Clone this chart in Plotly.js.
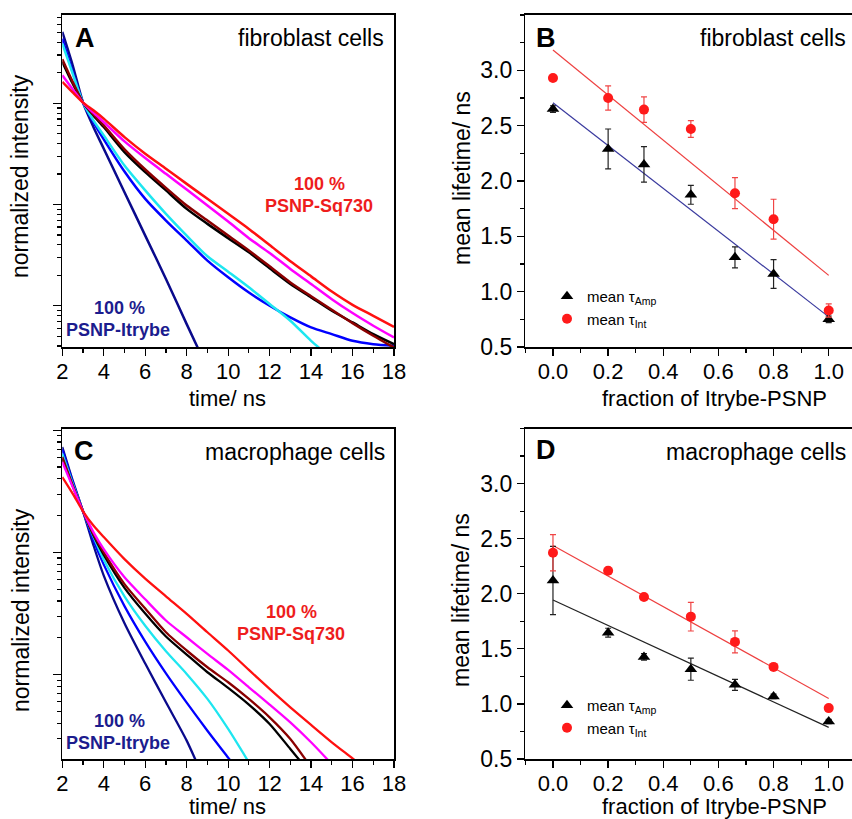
<!DOCTYPE html>
<html><head><meta charset="utf-8">
<script src="https://cdn.plot.ly/plotly-3.0.1.min.js"></script>
<style>html,body{margin:0;padding:0;overflow:hidden;background:#fff}#chart{width:860px;height:819px}</style>
</head><body><div id="chart"></div>
<script>
// ---------- time axis for decay curves (ns) ----------
const timeNs = [2,2.5,3,3.5,4,5,6,7,8,9,10,11,12,13,14,15,16,17,18];

// ---------- Panel A: fibroblast cells, normalized intensity ----------
const fibroRed     = [0.163,0.128,0.1016,0.0853,0.0706,0.0464,0.0318,0.0226,0.0160,0.01138,0.00809,0.00574,0.00398,0.00275,0.00195,0.00138,0.00102,0.000794,0.000617];
const fibroMagenta = [0.189,0.138,0.1016,0.0809,0.0653,0.0421,0.0288,0.0201,0.01409,0.00978,0.00679,0.00465,0.00332,0.00231,0.00164,0.00116,0.000846,0.000634,0.000485];
const fibroDarkRed = [0.273,0.163,0.1016,0.0778,0.0605,0.0351,0.0222,0.0146,0.00977,0.00695,0.00493,0.00351,0.00245,0.00170,0.00124,0.000912,0.000673,0.000505,0.000386];
const fibroBlack   = [0.257,0.157,0.1016,0.0760,0.0583,0.0330,0.0209,0.0138,0.00906,0.00644,0.00465,0.00337,0.00234,0.00164,0.00121,0.000891,0.000684,0.000524,0.000417];
const fibroCyan    = [0.390,0.197,0.1016,0.0679,0.0482,0.0243,0.0138,0.00809,0.00493,0.00308,0.00217,0.00152,0.00104,0.00071,0.00045,0.00030];
const fibroBlue    = [0.436,0.204,0.1016,0.0653,0.0441,0.0212,0.01138,0.00695,0.00440,0.00279,0.00191,0.00135,0.00100,0.000766,0.000610,0.000524,0.000450,0.000417,0.000402];
const fibroNavy    = [0.508,0.238,0.1016,0.0584,0.0356,0.01324,0.00493,0.00184,0.000658,0.000240];

// ---------- Panel C: macrophage cells, normalized intensity ----------
const macroRed     = [0.414,0.303,0.217,0.166,0.1336,0.0881,0.0610,0.0437,0.0314,0.0222,0.01574,0.01092,0.00763,0.00540,0.00387,0.00279,0.00206,0.00151];
const macroMagenta = [0.549,0.344,0.217,0.1466,0.1062,0.0625,0.0413,0.0277,0.0202,0.01477,0.01092,0.00787,0.00568,0.00406,0.00279,0.00185];
const macroDarkRed = [0.604,0.354,0.217,0.1413,0.100,0.0550,0.0347,0.0222,0.01574,0.01148,0.00865,0.00632,0.00447,0.00297,0.00174];
const macroBlack   = [0.586,0.350,0.217,0.138,0.0955,0.0513,0.0316,0.0205,0.01459,0.01045,0.00778,0.00568,0.00394,0.00246,0.00153];
const macroCyan    = [0.644,0.366,0.217,0.1349,0.0871,0.0437,0.0251,0.01552,0.01012,0.00632,0.00359,0.00191];
const macroBlue    = [0.698,0.378,0.217,0.126,0.0794,0.0363,0.0186,0.01023,0.00589,0.00347,0.00209,0.00126];
const macroNavy    = [0.729,0.389,0.217,0.1148,0.0646,0.0263,0.0123,0.00593,0.00288,0.0012];

// ---------- Panels B / D: mean lifetimes vs fraction ----------
const fraction = [0,0.2,0.33,0.5,0.66,0.8,1.0];
const fibroAmp    = [2.65,2.29,2.15,1.875,1.31,1.16,0.75];
const fibroAmpErr = [0.03,0.18,0.16,0.085,0.095,0.13,0.03];
const fibroInt    = [2.93,2.75,2.645,2.47,1.89,1.655,0.83];
const fibroIntErr = [0.02,0.11,0.115,0.075,0.14,0.18,0.06];
const macroAmp    = [2.12,1.647,1.427,1.315,1.173,1.068,0.84];
const macroAmpErr = [0.31,0.04,0.03,0.10,0.05,0.02,0.02];
const macroInt    = [2.372,2.209,1.97,1.792,1.563,1.336,0.962];
const macroIntErr = [0.165,0.03,0.01,0.13,0.10,0.01,0.02];
const fitX = [0,1];
const fibroFitAmp = [2.707,0.772];
const fibroFitInt = [3.184,1.147];
const macroFitAmp = [1.943,0.787];
const macroFitInt = [2.438,1.05];

const FONT = 'Liberation Sans, Arial, Helvetica, sans-serif';
const W = 860, H = 819;
const px = v => v / W;
const py = v => 1 - v / H;

const curveColors = {navy:'#0a0a8c', blue:'#0000ff', cyan:'#1ee6f0', black:'#000000', darkred:'#8b0000', magenta:'#ff00ff', red:'#ff1010'};

function curve(y, color, xa, ya, w) {
  return {x: timeNs, y: y, type:'scatter', mode:'lines', xaxis: xa, yaxis: ya,
          line:{color: color, width: w, shape:'spline', smoothing: 0.7}, showlegend:false, hoverinfo:'skip'};
}

const traces = [
  curve(fibroNavy, curveColors.navy, 'x', 'y', 2.5),
  curve(fibroBlue, curveColors.blue, 'x', 'y', 2.5),
  curve(fibroCyan, curveColors.cyan, 'x', 'y', 2.5),
  curve(fibroBlack, curveColors.black, 'x', 'y', 2.5),
  curve(fibroDarkRed, curveColors.darkred, 'x', 'y', 2.5),
  curve(fibroMagenta, curveColors.magenta, 'x', 'y', 2.5),
  curve(fibroRed, curveColors.red, 'x', 'y', 2.5),

  curve(macroNavy, curveColors.navy, 'x3', 'y3', 2.3),
  curve(macroBlue, curveColors.blue, 'x3', 'y3', 2.3),
  curve(macroCyan, curveColors.cyan, 'x3', 'y3', 2.3),
  curve(macroBlack, curveColors.black, 'x3', 'y3', 2.3),
  curve(macroDarkRed, curveColors.darkred, 'x3', 'y3', 2.3),
  curve(macroMagenta, curveColors.magenta, 'x3', 'y3', 2.3),
  curve(macroRed, curveColors.red, 'x3', 'y3', 2.3),

  // Panel B fits
  {x: fitX, y: fibroFitInt, xaxis:'x2', yaxis:'y2', mode:'lines', line:{color:'#ee4040', width:1.2}, showlegend:false},
  {x: fitX, y: fibroFitAmp, xaxis:'x2', yaxis:'y2', mode:'lines', line:{color:'#3a3a9e', width:1.2}, showlegend:false},
  // Panel B points
  {x: fraction, y: fibroAmp, xaxis:'x2', yaxis:'y2', mode:'markers', name:'mean τ<sub>Amp</sub>', legend:'legend',
   marker:{symbol:'triangle-up', size:11, color:'#000'},
   error_y:{type:'data', array: fibroAmpErr, visible:true, color:'#222', thickness:1.2, width:3}},
  {x: fraction, y: fibroInt, xaxis:'x2', yaxis:'y2', mode:'markers', name:'mean τ<sub>Int</sub>', legend:'legend',
   marker:{symbol:'circle', size:10, color:'#ff1a1a'},
   error_y:{type:'data', array: fibroIntErr, visible:true, color:'#f04545', thickness:1.2, width:3}},

  // Panel D fits
  {x: fitX, y: macroFitInt, xaxis:'x4', yaxis:'y4', mode:'lines', line:{color:'#ee4040', width:1.2}, showlegend:false},
  {x: fitX, y: macroFitAmp, xaxis:'x4', yaxis:'y4', mode:'lines', line:{color:'#222', width:1.2}, showlegend:false},
  {x: fraction, y: macroAmp, xaxis:'x4', yaxis:'y4', mode:'markers', name:'mean τ<sub>Amp</sub>', legend:'legend2',
   marker:{symbol:'triangle-up', size:11, color:'#000'},
   error_y:{type:'data', array: macroAmpErr, visible:true, color:'#222', thickness:1.2, width:3}},
  {x: fraction, y: macroInt, xaxis:'x4', yaxis:'y4', mode:'markers', name:'mean τ<sub>Int</sub>', legend:'legend2',
   marker:{symbol:'circle', size:10, color:'#ff1a1a'},
   error_y:{type:'data', array: macroIntErr, visible:true, color:'#f04545', thickness:1.2, width:3}}
];

const tickFont = {family: FONT, size: 23, color:'#000'};
const xTickFont = {family: FONT, size: 22, color:'#000'};
const baseAxis = {showline:true, linewidth:1.6, linecolor:'#000', mirror:true, showgrid:false, zeroline:false,
                  ticks:'outside', tickcolor:'#000', tickwidth:1.3, tickfont: tickFont};

const domAX = [px(62.3), px(394)];
const domBX = [px(525.4), px(856.3)];
const domTopY = [py(347), py(15)];
const domBotY = [py(759), py(428.5)];

const timeAxis = () => Object.assign({}, baseAxis, {domain: domAX, range:[2,18], tick0:2, dtick:2, ticklen:7, ticklabelstandoff:-3, tickfont: xTickFont,
   minor:{dtick:1, tick0:2, ticks:'outside', ticklen:4, tickcolor:'#000', tickwidth:1.2}});
const logAxis = (dom, rng) => Object.assign({}, baseAxis, {domain: dom, type:'log', range: rng, dtick:1, ticklen:8,
   showticklabels:false, minor:{dtick:'D1', ticks:'outside', ticklen:4, tickcolor:'#000', tickwidth:1.2}});
const fracAxis = () => Object.assign({}, baseAxis, {domain: domBX, range:[-0.1,1.1], tick0:0, dtick:0.2, tickformat:'.1f', ticklen:7, ticklabelstandoff:-3, tickfont: xTickFont,
   minor:{dtick:0.1, tick0:0, ticks:'outside', ticklen:4, tickcolor:'#000', tickwidth:1.2}});
const lifeAxis = dom => Object.assign({}, baseAxis, {domain: dom, range:[0.5,3.5], tickvals:[0.5,1,1.5,2,2.5,3], tickformat:'.1f', ticklen:7,
   minor:{dtick:0.25, tick0:0.5, ticks:'outside', ticklen:4, tickcolor:'#000', tickwidth:1.2}});

function ann(x, y, text, opts) {
  return Object.assign({xref:'paper', yref:'paper', x: px(x), y: py(y), text: text, showarrow:false,
    xanchor:'center', yanchor:'middle', font:{family: FONT, size: 23, color:'#000'}}, opts || {});
}
const bold = (s, c) => ({family: FONT, size: s, color: c || '#000', weight: 'bold'});
const titleFont = {family: FONT, size: 22, color:'#000'};

const annotations = [
  // axis titles
  ann(20, 176, 'normalized intensity', {textangle:-90}),
  ann(21, 610, 'normalized intensity', {textangle:-90}),
  ann(462, 178, 'mean lifetime/ ns', {textangle:-90}),
  ann(461, 600, 'mean lifetime/ ns', {textangle:-90}),
  ann(228, 398, 'time/ ns', {font: titleFont}),
  ann(228, 806, 'time/ ns', {font: titleFont}),
  ann(714, 398, 'fraction of Itrybe-PSNP', {font: titleFont}),
  ann(714, 806, 'fraction of Itrybe-PSNP', {font: titleFont}),
  // panel letters
  ann(85, 38, '<b>A</b>', {font: bold(27)}),
  ann(546, 38, '<b>B</b>', {font: bold(27)}),
  ann(84, 451, '<b>C</b>', {font: bold(27)}),
  ann(546, 450, '<b>D</b>', {font: bold(27)}),
  // panel captions
  ann(386, 38, 'fibroblast cells', {xanchor:'right'}),
  ann(848, 38, 'fibroblast cells', {xanchor:'right'}),
  ann(387, 452, 'macrophage cells', {xanchor:'right'}),
  ann(848, 452, 'macrophage cells', {xanchor:'right'}),
  // curve labels
  ann(319, 184, '<b>100 %</b>', {font: bold(18, '#ee1d1d')}),
  ann(319, 206, '<b>PSNP-Sq730</b>', {font: bold(18, '#ee1d1d')}),
  ann(119, 308, '<b>100 %</b>', {font: bold(18, '#1c1c8e')}),
  ann(118, 330, '<b>PSNP-Itrybe</b>', {font: bold(18, '#1c1c8e')}),
  ann(291, 612, '<b>100 %</b>', {font: bold(18, '#ee1d1d')}),
  ann(291, 634, '<b>PSNP-Sq730</b>', {font: bold(18, '#ee1d1d')}),
  ann(119, 721, '<b>100 %</b>', {font: bold(18, '#1c1c8e')}),
  ann(118, 743, '<b>PSNP-Itrybe</b>', {font: bold(18, '#1c1c8e')})
];

const legendBase = {xanchor:'left', yanchor:'top', bgcolor:'rgba(0,0,0,0)', borderwidth:0,
  font:{family: FONT, size:15, color:'#000'}, tracegroupgap:0, itemclick:false, itemdoubleclick:false};

const layout = {
  width: W, height: H, margin:{l:0, r:0, t:0, b:0},
  paper_bgcolor:'#fff', plot_bgcolor:'#fff',
  font:{family: FONT, color:'#000'},
  xaxis: Object.assign(timeAxis(), {anchor:'y'}),
  yaxis: Object.assign(logAxis(domTopY, [-3.408, -0.127]), {anchor:'x'}),
  xaxis2: Object.assign(fracAxis(), {anchor:'y2'}),
  yaxis2: Object.assign(lifeAxis(domTopY), {anchor:'x2'}),
  xaxis3: Object.assign(timeAxis(), {anchor:'y3'}),
  yaxis3: Object.assign(logAxis(domBotY, [-2.691, 0.014]), {anchor:'x3'}),
  xaxis4: Object.assign(fracAxis(), {anchor:'y4'}),
  yaxis4: Object.assign(lifeAxis(domBotY), {anchor:'x4'}),
  legend: Object.assign({}, legendBase, {x: px(547), y: py(280)}),
  legend2: Object.assign({}, legendBase, {x: px(547), y: py(689)}),
  annotations: annotations,
  showlegend: true
};

Plotly.newPlot('chart', traces, layout, {staticPlot:true, displayModeBar:false});
</script>
</body></html>
